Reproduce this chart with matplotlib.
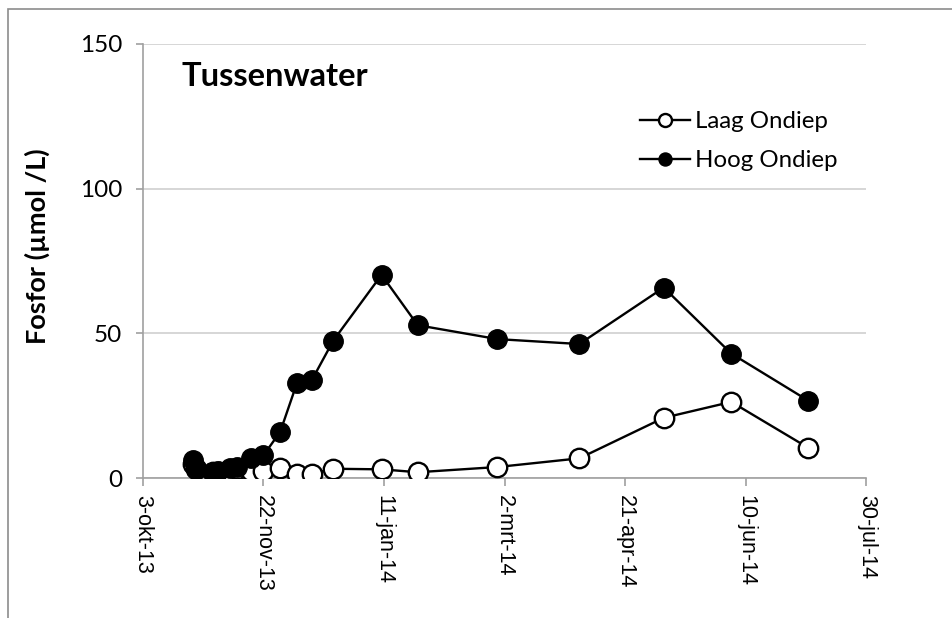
#!/usr/bin/python3

import datetime as dt
import matplotlib
import matplotlib.pyplot as plt
from matplotlib.patches import Rectangle

matplotlib.use('Agg')

# sampling dates (2013-2014)
dates = ["2013-10-24", "2013-10-25", "2013-11-01", "2013-11-03", "2013-11-08",
	"2013-11-11", "2013-11-17", "2013-11-22", "2013-11-29", "2013-12-06",
	"2013-12-12", "2013-12-21", "2014-01-10", "2014-01-25", "2014-02-27",
	"2014-04-02", "2014-05-07", "2014-06-04", "2014-07-06"]
laag = [5.0, 3.0, 2.0, 2.0, 2.5, 3.0, 2.5, 2.5, 3.3, 1.5,
	1.5, 3.2, 3.0, 2.0, 3.8, 6.8, 20.8, 26.3, 10.4]
hoog = [6.2, 3.5, 2.0, 2.3, 3.4, 3.8, 6.9, 7.8, 16.0, 33.0,
	33.7, 47.5, 70.2, 52.8, 48.0, 46.3, 65.8, 43.0, 26.7]

tick_dates = ["2013-10-03", "2013-11-22", "2014-01-11", "2014-03-02",
	"2014-04-21", "2014-06-10", "2014-07-30"]
tick_labels = ["3-okt-13", "22-nov-13", "11-jan-14", "2-mrt-14",
	"21-apr-14", "10-jun-14", "30-jul-14"]

x = [dt.datetime.strptime(d, "%Y-%m-%d") for d in dates]
xt = [dt.datetime.strptime(d, "%Y-%m-%d") for d in tick_dates]

fig = plt.figure(figsize=(9.52, 6.18), dpi=100)
ax = fig.add_axes([0.150, 0.2265, 0.760, 0.7025])

# outer frame of the chart area
fig.patches.append(Rectangle((8/952, 1-620/618), 1.0, 611/618, transform=fig.transFigure,
	fill=False, edgecolor="#8c8c8c", linewidth=1.2))

ax.plot(x, laag, color="black", linewidth=1.7, marker="o", markersize=14,
	markerfacecolor="white", markeredgecolor="black", markeredgewidth=1.7,
	label="Laag Ondiep", zorder=3)
ax.plot(x, hoog, color="black", linewidth=1.7, marker="o", markersize=14,
	markerfacecolor="black", markeredgecolor="black", label="Hoog Ondiep", zorder=4)

ax.set_xlim(xt[0], xt[-1])
ax.set_ylim(0, 150)
ax.set_yticks([0, 50, 100, 150])
ax.set_xticks(xt)
ax.set_xticklabels(tick_labels, rotation=-90, fontsize=15.5, family="Liberation Sans")
for lab in ax.get_yticklabels():
	lab.set_fontsize(17.5)
	lab.set_family("Lato")

ax.grid(axis="y", color="#d0d0d0", linewidth=1.2)
ax.set_axisbelow(True)
for s in ["top", "right"]:
	ax.spines[s].set_visible(False)
for s in ["left", "bottom"]:
	ax.spines[s].set_color("#a0a0a0")
	ax.spines[s].set_linewidth(1.2)
ax.tick_params(axis="x", direction="out", length=6, color="#a0a0a0", width=1.2, pad=6)
ax.tick_params(axis="y", direction="out", length=5, color="#a0a0a0", width=1.2, pad=10)

ax.set_ylabel("Fosfor (µmol /L)", fontsize=19.5, fontweight="bold", family="Lato")
ax.yaxis.set_label_coords(-0.128, 0.535)
ax.text(0.054, 0.925, "Tussenwater", transform=ax.transAxes, fontsize=23.5,
	fontweight="bold", family="Lato", va="center")

leg = ax.legend(loc="upper right", bbox_to_anchor=(0.99, 0.895), frameon=False,
	prop={"family": "Lato", "size": 17.3}, markerscale=0.67, handlelength=2.1,
	handletextpad=0.2, labelspacing=0.75)

fig.savefig("out.png", dpi=100)
